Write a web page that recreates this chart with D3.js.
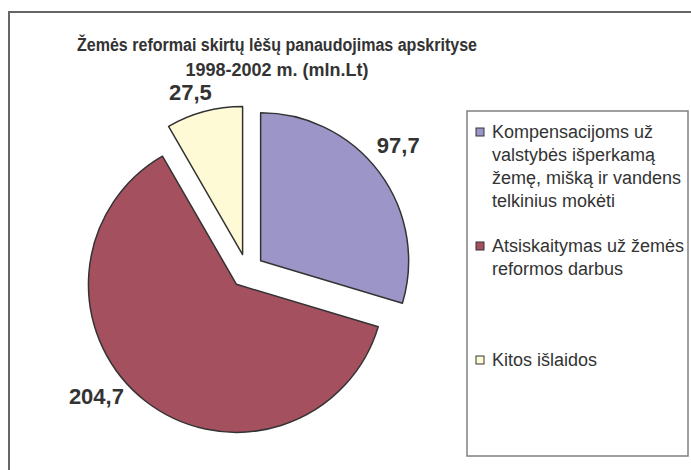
<!DOCTYPE html>
<html lang="lt">
<head>
<meta charset="UTF-8">
<title>Žemės reformai skirtų lėšų panaudojimas</title>
<script src="https://d3js.org/d3.v7.min.js"></script>
<style>
    body { margin: 0; background: #fff; }
    svg text { font-family: Arial, "Liberation Sans", sans-serif; fill: #333; }
    .title { font-size: 18px; font-weight: bold; }
    .value-label { font-size: 22px; font-weight: bold; }
    .legend-text { font-size: 18px; }
</style>
</head>
<body>
<svg width="691" height="470"></svg>
<script>
    // chart data
    const categories = [
        ["Kompensacijoms už", "valstybės išperkamą", "žemę, mišką ir vandens", "telkinius mokėti"],
        ["Atsiskaitymas už žemės", "reformos darbus"],
        ["Kitos išlaidos"]
    ];
    const values = [97.7, 204.7, 27.5];
    const valueLabels = ["97,7", "204,7", "27,5"];
    const colors = ["#9C95C8", "#A5505E", "#FFFAD6"];
    const titleLines = ["Žemės reformai skirtų lėšų panaudojimas apskrityse", "1998-2002 m. (mln.Lt)"];

    const width = 691, height = 470;
    const svg = d3.select("svg");

    // outer chart frame (runs past the right and bottom edge)
    svg.append("rect")
        .attr("x", 9).attr("y", 12)
        .attr("width", 700).attr("height", 480)
        .attr("fill", "none")
        .attr("stroke", "#666")
        .attr("stroke-width", 2);

    // title - first line is a bit condensed in the original
    svg.selectAll(".title")
        .data(titleLines)
        .enter().append("text")
        .attr("class", "title")
        .attr("x", 277)
        .attr("y", (d, i) => 51 + i * 25)
        .attr("text-anchor", "middle")
        .attr("textLength", (d, i) => i === 0 ? 400 : null)
        .attr("lengthAdjust", "spacingAndGlyphs")
        .text(d => d);

    // pie
    const cx = 247, cy = 271, radius = 148, explode = 17;
    const pie = d3.pie().sort(null).value(d => d)(values);
    const arc = d3.arc().innerRadius(0).outerRadius(radius);

    const offset = (d, r) => {
        const a = (d.startAngle + d.endAngle) / 2;
        return [Math.sin(a) * r, -Math.cos(a) * r];
    };

    const g = svg.append("g").attr("transform", `translate(${cx},${cy})`);

    g.selectAll(".slice")
        .data(pie)
        .enter().append("path")
        .attr("class", "slice")
        .attr("d", arc)
        .attr("transform", d => `translate(${offset(d, explode)})`)
        .attr("fill", (d, i) => colors[i])
        .attr("stroke", "#333")
        .attr("stroke-width", 1.5)
        .attr("stroke-linejoin", "round");

    // value labels outside the slices (small angle nudge so they sit like the original)
    const labelRadius = [180, 179, 170];
    const nudge = [-0.06, 0.23, -0.05];
    g.selectAll(".value-label")
        .data(pie)
        .enter().append("text")
        .attr("class", "value-label")
        .attr("text-anchor", "middle")
        .attr("dy", "0.35em")
        .attr("transform", (d, i) => {
            const [ox, oy] = offset(d, explode);
            const a = (d.startAngle + d.endAngle) / 2 + nudge[i];
            return `translate(${ox + Math.sin(a) * labelRadius[i]},${oy - Math.cos(a) * labelRadius[i]})`;
        })
        .text((d, i) => valueLabels[i]);

    // legend
    const legend = svg.append("g");
    legend.append("rect")
        .attr("x", 467).attr("y", 111)
        .attr("width", 221).attr("height", 345)
        .attr("fill", "#fff")
        .attr("stroke", "#808080")
        .attr("stroke-width", 1.5);

    const lineH = 23;
    const itemY = [138, 252, 366];
    const items = legend.selectAll(".legend-item")
        .data(categories)
        .enter().append("g")
        .attr("class", "legend-item")
        .attr("transform", (d, i) => `translate(476,${itemY[i]})`);

    items.append("rect")
        .attr("x", 0).attr("y", -10)
        .attr("width", 8).attr("height", 8)
        .attr("fill", (d, i) => colors[i])
        .attr("stroke", "#333")
        .attr("stroke-width", 1);

    items.append("text")
        .attr("class", "legend-text")
        .selectAll("tspan")
        .data(d => d)
        .enter().append("tspan")
        .attr("x", 16)
        .attr("y", (d, i) => i * lineH)
        .text(d => d);
</script>
</body>
</html>
